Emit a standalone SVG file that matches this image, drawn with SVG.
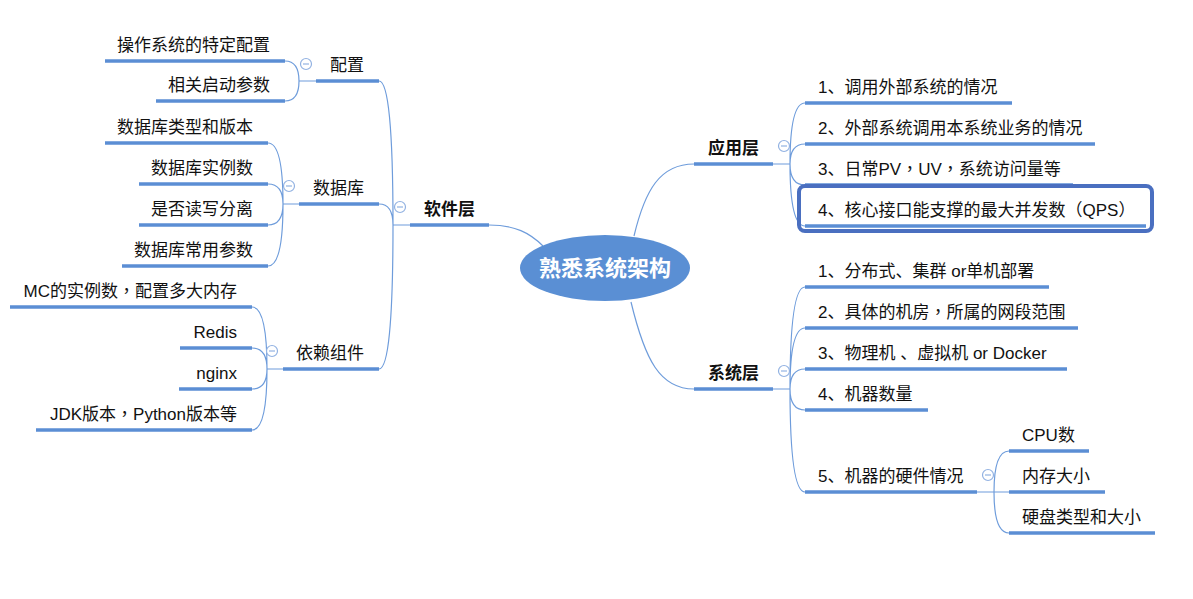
<svg xmlns="http://www.w3.org/2000/svg" width="1193" height="599" viewBox="0 0 1193 599">
<style>
text{font-family:"Liberation Sans","Noto Sans CJK SC",sans-serif;font-size:17px;fill:#111}
.l{text-anchor:end}
.b{font-weight:bold}
.p{font-family:"Noto Sans CJK TC",sans-serif}
.ul{stroke:#5B8ED4;stroke-width:3.5;fill:none}
.c{stroke:#6E9CDB;stroke-width:1.2;fill:none}
</style>
<defs>
<g id="minus"><circle r="5.5" fill="#fff" stroke="#92B2E2" stroke-width="1.2"/><line x1="-3" y1="0" x2="3" y2="0" stroke="#92B2E2" stroke-width="1.2"/></g>
</defs>
<rect width="1193" height="599" fill="#fff"/>
<g id="connectors">
<path class="c" d="M489 225 C515 225 530 233 543 246"/>
<path class="c" d="M634 236 C645 190 660 164 694 164"/>
<path class="c" d="M631 302 C645 360 660 389 694 389"/>
<path class="c" d="M410 225 H393 M393 225 Q393 81 379 81 M393 225 Q393 204 379 204 M393 225 Q393 369 379 369"/>
<path class="c" d="M316 81 H299 M299 81 Q299 61 285 61 M299 81 Q299 101 285 101"/>
<path class="c" d="M299 204 H283 M283 204 Q283 143 268 143 M283 204 Q283 184 268 184 M283 204 Q283 225 268 225 M283 204 Q283 266 268 266"/>
<path class="c" d="M283 369 H267 M267 369 Q267 307 252 307 M267 369 Q267 348 252 348 M267 369 Q267 389 252 389 M267 369 Q267 430 252 430"/>
<path class="c" d="M773 164 H790 M790 164 Q790 103 805 103 M790 164 Q790 144 805 144 M790 164 Q790 185 805 185 M790 164 Q790 226 805 226"/>
<path class="c" d="M773 389 H790 M790 389 Q790 287 805 287 M790 389 Q790 328 805 328 M790 389 Q790 369 805 369 M790 389 Q790 410 805 410 M790 389 Q790 492 805 492"/>
<path class="c" d="M977 492 H994 M994 492 Q994 451 1009 451 M994 492 H1009 M994 492 Q994 533 1009 533"/>
</g>
<g id="root">
<ellipse cx="605" cy="268" rx="85" ry="33" fill="#5A8FD4"/>
<text x="605" y="276" text-anchor="middle" class="b" style="fill:#fff;font-size:22px">熟悉系统架构</text>
</g>
<g id="software">
<line class="ul" x1="410" y1="225" x2="489" y2="225"/>
<text x="424" y="215" class="b">软件层</text>
<use href="#minus" x="400" y="207"/>
</g>
<g id="config">
<line class="ul" x1="316" y1="81" x2="379" y2="81"/>
<text x="364" y="71" class="l">配置</text>
<use href="#minus" x="306" y="64"/>
</g>
<g id="config-os"><line class="ul" x1="105" y1="61" x2="285" y2="61"/><text x="270" y="51" class="l">操作系统的特定配置</text></g>
<g id="config-params"><line class="ul" x1="156" y1="101" x2="285" y2="101"/><text x="270" y="91" class="l">相关启动参数</text></g>
<g id="db">
<line class="ul" x1="299" y1="204" x2="379" y2="204"/>
<text x="364" y="194" class="l">数据库</text>
<use href="#minus" x="289" y="186"/>
</g>
<g id="db-type"><line class="ul" x1="105" y1="143" x2="268" y2="143"/><text x="253" y="133" class="l">数据库类型和版本</text></g>
<g id="db-inst"><line class="ul" x1="139" y1="184" x2="268" y2="184"/><text x="253" y="174" class="l">数据库实例数</text></g>
<g id="db-rw"><line class="ul" x1="139" y1="225" x2="268" y2="225"/><text x="253" y="215" class="l">是否读写分离</text></g>
<g id="db-params"><line class="ul" x1="122" y1="266" x2="268" y2="266"/><text x="253" y="256" class="l">数据库常用参数</text></g>
<g id="deps">
<line class="ul" x1="283" y1="369" x2="379" y2="369"/>
<text x="364" y="359" class="l">依赖组件</text>
<use href="#minus" x="272" y="351"/>
</g>
<g id="deps-mc"><line class="ul" x1="10" y1="307" x2="252" y2="307"/><text x="237" y="297" class="l">MC的实例数<tspan class="p">，</tspan>配置多大内存</text></g>
<g id="deps-redis"><line class="ul" x1="180" y1="348" x2="252" y2="348"/><text x="237" y="338" class="l">Redis</text></g>
<g id="deps-nginx"><line class="ul" x1="179" y1="389" x2="252" y2="389"/><text x="237" y="379" class="l">nginx</text></g>
<g id="deps-jdk"><line class="ul" x1="36" y1="430" x2="252" y2="430"/><text x="237" y="420" class="l">JDK版本<tspan class="p">，</tspan>Python版本等</text></g>
<g id="app">
<line class="ul" x1="694" y1="164" x2="773" y2="164"/>
<text x="708" y="154" class="b">应用层</text>
<use href="#minus" x="784" y="146"/>
</g>
<g id="app-1"><line class="ul" x1="805" y1="103" x2="1012" y2="103"/><text x="818" y="93">1、调用外部系统的情况</text></g>
<g id="app-2"><line class="ul" x1="805" y1="144" x2="1095" y2="144"/><text x="818" y="134">2、外部系统调用本系统业务的情况</text></g>
<g id="app-3"><line class="ul" x1="805" y1="185" x2="1073" y2="185"/><text x="818" y="175">3、日常PV<tspan class="p">，</tspan>UV<tspan class="p">，</tspan>系统访问量等</text></g>
<g id="app-4"><line class="ul" x1="805" y1="226" x2="1146" y2="226"/><text x="818" y="216">4、核心接口能支撑的最大并发数<tspan class="p">（</tspan>QPS<tspan class="p">）</tspan></text>
<rect x="799" y="186" width="353" height="45" rx="6" fill="none" stroke="#4A6FC0" stroke-width="4"/></g>
<g id="sys">
<line class="ul" x1="694" y1="389" x2="773" y2="389"/>
<text x="708" y="379" class="b">系统层</text>
<use href="#minus" x="784" y="371"/>
</g>
<g id="sys-1"><line class="ul" x1="805" y1="287" x2="1049" y2="287"/><text x="818" y="277">1、分布式、集群 or单机部署</text></g>
<g id="sys-2"><line class="ul" x1="805" y1="328" x2="1078" y2="328"/><text x="818" y="318">2、具体的机房<tspan class="p">，</tspan>所属的网段范围</text></g>
<g id="sys-3"><line class="ul" x1="805" y1="369" x2="1067" y2="369"/><text x="818" y="359">3、物理机 、虚拟机 or Docker</text></g>
<g id="sys-4"><line class="ul" x1="805" y1="410" x2="928" y2="410"/><text x="818" y="400">4、机器数量</text></g>
<g id="sys-5">
<line class="ul" x1="805" y1="492" x2="977" y2="492"/>
<text x="818" y="482">5、机器的硬件情况</text>
<use href="#minus" x="988" y="475"/>
</g>
<g id="hw-cpu"><line class="ul" x1="1009" y1="451" x2="1089" y2="451"/><text x="1022" y="441">CPU数</text></g>
<g id="hw-mem"><line class="ul" x1="1009" y1="492" x2="1105" y2="492"/><text x="1022" y="482">内存大小</text></g>
<g id="hw-disk"><line class="ul" x1="1009" y1="533" x2="1155" y2="533"/><text x="1022" y="523">硬盘类型和大小</text></g>
</svg>
